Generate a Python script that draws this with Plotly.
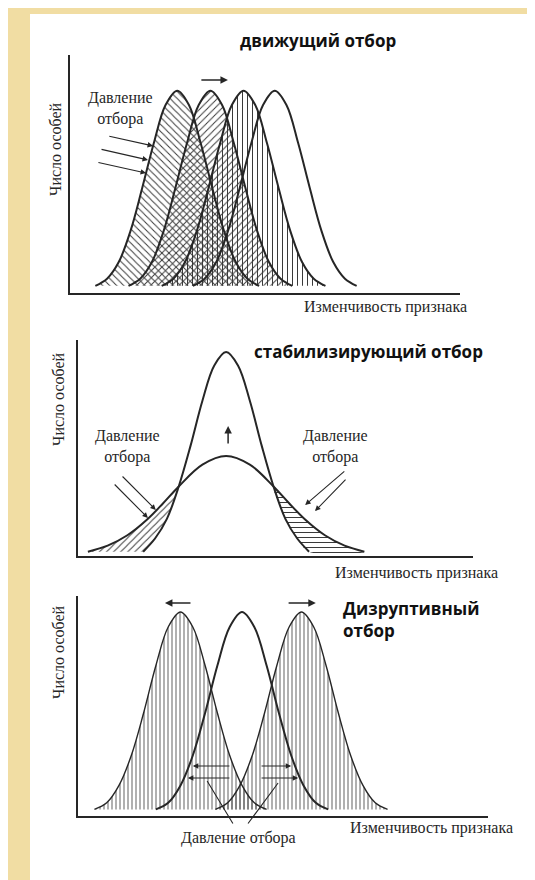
import plotly.graph_objects as go

W, H = 535, 880

# ---------------- data ----------------
# Panel 1: directional selection - four identical bell curves shifted right
P1_OFFSETS = [-21, -18, -15, -12, -9, -6, -3, 0, 3, 6, 9, 12, 15, 18, 21]
P1_HEIGHTS = [3, 6, 13, 26, 44, 63, 79, 85, 79, 63, 44, 26, 13, 6, 3]
P1_CENTERS = [27.5, 36, 44.5, 52.5]
P1_PATTERNS = ["\\", "/", "|", ""]

# Panel 2: stabilizing selection - wide (before) and narrow (after) curves
P2_CENTER = 37.5
P2_WIDE_OFFSETS = [-35, -30, -25, -20, -16, -12, -6, 0, 6, 12, 16, 20, 25, 30, 35]
P2_WIDE = [2, 4.8, 9.6, 16.9, 24.3, 32.2, 42.3, 46.3, 42.3, 32.2, 24.3, 16.9, 9.6, 4.8, 2]
P2_NARROW_OFFSETS = [-21, -18, -15, -12, -9, -6, -3, 0, 3, 6, 9, 12, 15, 18, 21]
P2_NARROW = [2, 8.1, 17.2, 32.2, 51.1, 71.9, 88.2, 94.4, 88.2, 71.9, 51.1, 32.2, 17.2, 8.1, 2]

# Panel 3: disruptive selection - three bell curves
P3_OFFSETS = [-21, -18, -15, -12, -9, -6, -3, 0, 3, 6, 9, 12, 15, 18, 21]
P3_HEIGHTS = [3, 6, 13.9, 27.5, 46.8, 68.4, 85.9, 92.7, 85.9, 68.4, 46.8, 27.5, 13.9, 6, 3]
P3_CENTERS = [25, 40, 54.5]
P3_HATCHED = [True, False, True]

# Texts
TITLE1 = "движущий отбор"
TITLE2 = "стабилизирующий отбор"
TITLE3 = "Дизруптивный<br>отбор"
YLABEL = "Число особей"
XLABEL = "Изменчивость признака"
PRESSURE2 = "Давление<br>отбора"
PRESSURE1 = "Давление отбора"

# ---------------- styling ----------------
INK = "#262626"
HATCH = "#3a3a3a"
SERIF = "Liberation Serif, Times New Roman, serif"
SANS = "Open Sans, DejaVu Sans, sans-serif"
BG = "#f1dda3"

fig = go.Figure()


def curve(xs_off, ys, c):
    return [c + o for o in xs_off], list(ys)


def fill_trace(xs, ys, shape, ax, size=5, sol=0.18, color=HATCH):
    return go.Scatter(
        x=xs, y=ys, mode="lines", fill="toself",
        line=dict(width=0, shape="spline", color="rgba(0,0,0,0)"),
        fillcolor="rgba(0,0,0,0)",
        fillpattern=dict(shape=shape, fgcolor=color, bgcolor="rgba(0,0,0,0)",
                         size=size, solidity=sol, fillmode="replace"),
        xaxis=ax[0], yaxis=ax[1], hoverinfo="skip", showlegend=False)


def line_trace(xs, ys, ax, width=2):
    return go.Scatter(
        x=xs, y=ys, mode="lines",
        line=dict(width=width, shape="spline", color=INK),
        xaxis=ax[0], yaxis=ax[1], hoverinfo="skip", showlegend=False)


A1, A2, A3 = ("x", "y"), ("x2", "y2"), ("x3", "y3")

# ---- panel 1
for c, pat in zip(P1_CENTERS, P1_PATTERNS):
    if pat:
        xs, ys = curve(P1_OFFSETS, P1_HEIGHTS, c)
        fig.add_trace(fill_trace(xs, ys, pat, A1, size=5, sol=0.2))
for c in P1_CENTERS:
    xs, ys = curve(P1_OFFSETS, P1_HEIGHTS, c)
    fig.add_trace(line_trace(xs, ys, A1))

# ---- panel 2
wx, wy = curve(P2_WIDE_OFFSETS, P2_WIDE, P2_CENTER)
nx, ny = curve(P2_NARROW_OFFSETS, P2_NARROW, P2_CENTER)
# left tail: wide from its start to crossing, back along narrow
lx = wx[0:6] + nx[3::-1]
ly = wy[0:6] + ny[3::-1]
rx = wx[9:] + nx[:10:-1]
ry = wy[9:] + ny[:10:-1]
fig.add_trace(fill_trace(lx, ly, "/", A2, size=5, sol=0.2))
fig.add_trace(fill_trace(rx, ry, "-", A2, size=5, sol=0.2))
fig.add_trace(line_trace(wx, wy, A2))
fig.add_trace(line_trace(nx, ny, A2))

# ---- panel 3
for c, h in zip(P3_CENTERS, P3_HATCHED):
    if h:
        xs, ys = curve(P3_OFFSETS, P3_HEIGHTS, c)
        fig.add_trace(fill_trace(xs, ys, "|", A3, size=4, sol=0.22, color="#4a4a4a"))
for i, c in enumerate(P3_CENTERS):
    xs, ys = curve(P3_OFFSETS, P3_HEIGHTS, c)
    fig.add_trace(line_trace(xs, ys, A3, width=1.4 if P3_HATCHED[i] else 2))


# ---------------- axes ----------------
def axis(dom, anchor):
    return dict(domain=dom, anchor=anchor, range=[0, 100], showline=True,
                linecolor=INK, linewidth=2, showgrid=False, zeroline=False,
                showticklabels=False, ticks="", fixedrange=True)


def fx(px):
    return px / W


def fy(py):
    return 1 - py / H


fig.update_layout(
    xaxis=axis([fx(62), fx(452)], "y"),
    yaxis=axis([fy(285), fy(47)], "x"),
    xaxis2=axis([fx(70), fx(465)], "y2"),
    yaxis2=axis([fy(548), fy(332)], "x2"),
    xaxis3=axis([fx(70), fx(480)], "y3"),
    yaxis3=axis([fy(808), fy(588)], "x3"),
)

ann = []


def text(px, py, t, size=16, font=SERIF, bold=False, angle=0, xanchor="center", color=INK):
    if bold:
        t = "<b>" + t + "</b>"
    ann.append(dict(x=fx(px), y=fy(py), xref="paper", yref="paper", text=t,
                    showarrow=False, textangle=angle, xanchor=xanchor, yanchor="middle",
                    align="left" if xanchor == "left" else "center",
                    font=dict(family=font, size=size, color=color)))


def arrow(ax_, tail, head, head_style=2, width=1.1):
    xa, ya = ax_
    ann.append(dict(x=head[0], y=head[1], ax=tail[0], ay=tail[1],
                    xref=xa, yref=ya, axref=xa, ayref=ya, text="",
                    showarrow=True, arrowhead=head_style, arrowsize=1,
                    arrowwidth=width, arrowcolor=INK, standoff=0, startstandoff=0))


# panel 1 texts
text(310, 32, TITLE1, size=17, font=SANS, bold=True, color="#111")
text(48, 141, YLABEL, angle=-90)
text(377, 299, XLABEL)
text(112, 101, PRESSURE2)
arrow(A1, (9.7, 66.0), (21.3, 61.8))
arrow(A1, (7.7, 60.5), (20.0, 55.9))
arrow(A1, (6.9, 55.0), (19.5, 50.4))
arrow(A1, (33.3, 89.5), (40.5, 89.5), width=1.5)

# panel 2 texts
text(360, 344, TITLE2, size=17, font=SANS, bold=True, color="#111")
text(50, 391, YLABEL, angle=-90)
text(408, 565, XLABEL)
text(119, 438, PRESSURE2)
text(327, 438, PRESSURE2)
arrow(A2, (10.9, 37.5), (19.7, 21.3))
arrow(A2, (8.9, 33.8), (17.7, 17.6))
arrow(A2, (67.8, 39.8), (57.5, 23.6))
arrow(A2, (68.1, 36.1), (60.0, 20.8))
arrow(A2, (38.0, 51.4), (38.0, 60.2), width=1.5)

# panel 3 texts
text(333, 611, TITLE3, size=17, font=SANS, bold=True, xanchor="left", color="#111")
text(50, 644, YLABEL, angle=-90)
text(423, 820, XLABEL)
text(230, 830, PRESSURE1)
arrow(A3, (27.8, 96.8), (21.2, 96.8), width=1.5)
arrow(A3, (51.0, 96.8), (58.0, 96.8), width=1.5)
arrow(A3, (37.3, 22.7), (28.0, 22.7))
arrow(A3, (37.3, 17.3), (26.8, 17.3))
arrow(A3, (44.4, 22.7), (52.0, 22.7))
arrow(A3, (44.4, 17.3), (53.7, 17.3))
arrow(A3, (38.0, -4.1), (31.5, 15.9), head_style=0)
arrow(A3, (41.2, -4.1), (48.8, 15.0), head_style=0)

fig.update_layout(
    width=W, height=H, margin=dict(l=0, r=0, t=0, b=0),
    paper_bgcolor=BG, plot_bgcolor="rgba(0,0,0,0)",
    showlegend=False, annotations=ann,
    shapes=[dict(type="rect", xref="paper", yref="paper",
                 x0=fx(22), x1=1, y0=0, y1=fy(6),
                 fillcolor="white", line=dict(width=0), layer="below")],
)

fig.write_html("out.html", config={"displayModeBar": False})
